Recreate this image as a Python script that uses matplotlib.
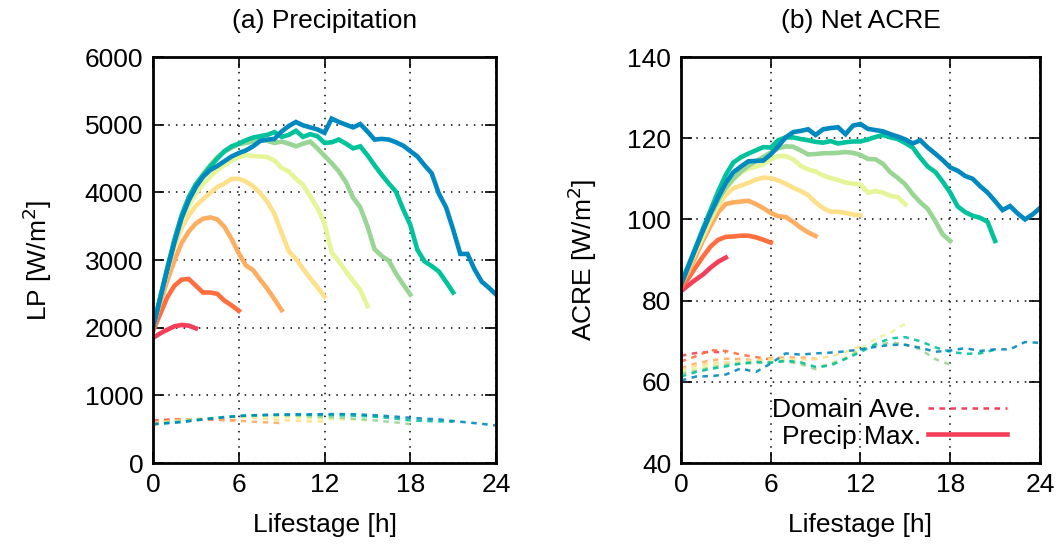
import numpy as np
import matplotlib
matplotlib.use("Agg")
import matplotlib.pyplot as plt

plt.rcParams['font.family'] = ['Liberation Sans', 'DejaVu Sans']

# colours, shortest lifetime first
colors = ['#f43f5a', '#ff6e3e', '#fdae61', '#fee08b', '#e6f598', '#99d594', '#00c29b', '#0088c0']
lifetimes = [3, 6, 9, 12, 15, 18, 21, 24]

# ---- (a) precipitation, precip-max (every 0.5 h)
lp_max = [
  [1850, 1915, 1970, 2020, 2040, 2030, 1990],
  [1950, 2200, 2450, 2620, 2710, 2720, 2620, 2520, 2520, 2500, 2400, 2330, 2250],
  [2000, 2370, 2690, 2990, 3250, 3420, 3540, 3610, 3630, 3600, 3490, 3310, 3100,
   2920, 2850, 2710, 2575, 2420, 2260],
  [2000, 2420, 2830, 3200, 3470, 3660, 3800, 3900, 3990, 4080, 4130, 4200, 4200,
   4160, 4090, 3990, 3860, 3680, 3400, 3130, 3020, 2870, 2730, 2600, 2460],
  [2000, 2430, 2850, 3250, 3560, 3800, 3980, 4120, 4230, 4330, 4400, 4470, 4520,
   4550, 4540, 4530, 4520, 4470, 4360, 4310, 4200, 4110, 3940, 3770, 3540,
   3110, 2980, 2830, 2690, 2560, 2320],
  [2000, 2440, 2880, 3290, 3640, 3910, 4110, 4270, 4400, 4520, 4600, 4660, 4710,
   4730, 4750, 4780, 4760, 4730, 4750, 4720, 4680, 4720, 4750, 4650, 4540,
   4430, 4310, 4150, 3920, 3780, 3500, 3160, 3060, 2990, 2800, 2640, 2490],
  [2000, 2440, 2880, 3300, 3660, 3930, 4120, 4250, 4380, 4500, 4610, 4680, 4720,
   4770, 4810, 4830, 4850, 4890, 4820, 4850, 4910, 4820, 4860, 4830, 4730,
   4740, 4780, 4720, 4650, 4680, 4550, 4400, 4260, 4130, 4010, 3750, 3520,
   3150, 2980, 2910, 2830, 2680, 2520],
  [2000, 2430, 2860, 3260, 3620, 3880, 4080, 4230, 4330, 4390, 4460, 4530, 4580,
   4620, 4680, 4760, 4780, 4790, 4900, 4980, 5040, 4990, 4960, 4930, 4880,
   5090, 5040, 5000, 4960, 5010, 4900, 4780, 4790, 4780, 4740, 4690, 4610,
   4530, 4400, 4280, 3980, 3780, 3450, 3090, 3090, 2860, 2680, 2590, 2490],
]

# ---- (a) precipitation, domain average (every 1 h)
lp_ave = [
  [630, 640, 645, 640],
  [620, 635, 645, 645, 640, 635, 630],
  [600, 620, 640, 650, 650, 640, 625, 610, 600, 590],
  [590, 610, 630, 650, 665, 675, 680, 670, 650, 635, 625, 615, 610],
  [580, 600, 620, 640, 660, 675, 685, 690, 690, 680, 670, 660, 650, 645, 640, 630],
  [575, 595, 615, 640, 660, 680, 695, 700, 705, 705, 700, 690, 680, 670, 655,
   640, 620, 600, 575],
  [570, 590, 610, 635, 660, 680, 695, 705, 710, 715, 715, 712, 710, 705, 700,
   690, 675, 655, 630, 620, 615, 610],
  [575, 590, 605, 630, 655, 675, 695, 705, 712, 716, 718, 720, 722, 724, 722,
   712, 700, 685, 668, 655, 645, 620, 600, 580, 555],
]

# ---- (b) net ACRE, precip-max (every 0.5 h)
acre_max = [
  [82.3, 83.8, 85.2, 86.5, 88.2, 89.6, 90.6],
  [83.0, 85.5, 88.3, 91.0, 93.4, 95.0, 95.7, 95.8, 96.0, 96.0, 95.6, 95.0, 94.3],
  [84.0, 87.0, 91.0, 95.0, 98.5, 101.8, 103.8, 104.2, 104.4, 104.6, 103.8, 102.8,
   101.6, 100.8, 100.6, 99.4, 98.0, 96.8, 95.9],
  [84.5, 88.0, 92.0, 96.0, 100.0, 103.5, 106.0, 107.7, 108.3, 109.0, 109.8, 110.3,
   110.2, 109.6, 108.8, 107.8, 107.0, 106.0, 104.2, 102.8, 101.9, 101.9, 101.6,
   101.2, 101.0],
  [84.5, 88.5, 92.5, 96.5, 100.5, 104.0, 107.5, 109.8, 111.5, 112.5, 113.0, 113.6,
   114.8, 115.6, 115.6, 114.8, 113.2, 112.3, 111.8, 110.8, 110.2, 109.7, 109.1,
   108.8, 108.6, 106.6, 107.0, 106.6, 105.8, 105.5, 103.7],
  [84.5, 88.8, 93.0, 97.3, 101.3, 104.8, 107.8, 110.0, 111.8, 113.2, 114.3, 115.4,
   116.5, 117.5, 118.0, 117.9, 117.0, 116.0, 116.1, 116.3, 116.3, 116.4, 116.6,
   116.4, 115.9, 114.9, 114.8, 113.7, 111.6, 110.2, 108.6, 106.2, 104.2, 102.6,
   99.6, 96.3, 94.7],
  [84.0, 88.5, 93.3, 98.0, 102.5, 107.0, 111.0, 114.0, 115.3, 116.2, 117.0, 117.8,
   117.7, 119.5, 120.2, 120.2, 119.8, 119.5, 119.1, 118.9, 119.3, 118.7, 119.0,
   119.2, 119.2, 119.7, 120.3, 120.8, 120.2, 119.8, 118.8, 117.7, 115.2, 113.0,
   111.7, 109.3, 106.6, 103.2, 101.8, 100.9, 100.4, 99.4, 94.7],
  [84.0, 88.5, 93.0, 97.5, 101.7, 105.5, 109.0, 111.6, 113.0, 114.3, 114.4, 114.5,
   116.0, 118.0, 120.2, 121.5, 121.8, 122.2, 120.8, 122.2, 122.5, 122.7, 121.0,
   123.1, 123.5, 122.3, 122.0, 121.7, 121.0, 120.4, 119.7, 118.7, 119.5, 117.7,
   116.2, 114.6, 112.8, 112.0, 110.7, 110.0, 108.2, 106.6, 104.5, 102.3, 103.3,
   101.5, 100.0, 101.2, 102.8],
]

# ---- (b) net ACRE, domain average (every 1 h)
acre_ave = [
  [66.4, 67.1, 67.4, 67.2],
  [65.0, 66.3, 67.8, 67.6, 66.7, 66.1, 65.5],
  [63.4, 64.5, 65.3, 65.7, 65.6, 65.3, 65.9, 66.0, 66.0, 65.7],
  [63.0, 64.0, 64.6, 64.8, 65.0, 65.3, 65.6, 65.5, 65.5, 65.6, 66.3, 67.3, 68.8],
  [62.5, 63.3, 64.0, 64.5, 64.7, 64.9, 65.0, 65.4, 64.4, 63.4, 64.6, 66.0, 68.2,
   70.6, 72.1, 74.3],
  [62.0, 62.7, 63.5, 64.2, 64.5, 64.6, 64.8, 65.0, 64.4, 63.1, 64.4, 65.6, 67.9,
   68.9, 69.7, 69.2, 68.0, 65.6, 64.2],
  [61.3, 62.4, 63.2, 63.8, 64.5, 64.9, 64.7, 65.2, 64.8, 63.7, 64.0, 65.7, 67.3,
   69.3, 70.7, 71.0, 70.0, 68.5, 67.4, 66.9, 67.0, 67.9],
  [60.3, 61.3, 61.4, 61.8, 63.3, 62.4, 64.5, 67.0, 66.7, 67.0, 67.2, 67.5, 68.0,
   68.6, 69.1, 69.1, 68.4, 67.4, 67.7, 68.3, 67.6, 68.0, 68.0, 69.8, 69.6],
]

fig = plt.figure(figsize=(10.64, 5.52), dpi=100)
ax1 = fig.add_axes([0.1438, 0.1612, 0.3224, 0.7355])
ax2 = fig.add_axes([0.6400, 0.1612, 0.3374, 0.7355])

fs = 19

def style(ax, ylim, yticks):
  ax.set_xlim(0, 24)
  ax.set_ylim(*ylim)
  ax.set_xticks([0, 6, 12, 18, 24])
  ax.set_yticks(yticks)
  ax.tick_params(direction='in', length=8, width=1.2, top=True, right=True,
                 labelsize=fs, pad=7)
  for s in ax.spines.values():
    s.set_linewidth(2)
  ax.grid(True, color='black', linestyle=(0, (1, 4)), linewidth=1.1)
  ax.set_axisbelow(True)
  ax.set_xlabel('Lifestage [h]', fontsize=fs, labelpad=12)

for i in range(len(lifetimes)):
  c = colors[i]
  t_max = np.arange(len(lp_max[i])) * 0.5
  t_ave = np.arange(len(lp_ave[i])) * 1.0
  ax1.plot(t_ave, lp_ave[i], color=c, lw=1.8, dashes=(2.2, 2.2), alpha=0.9)
  ax1.plot(t_max, lp_max[i], color=c, lw=3.3, solid_joinstyle='miter')
  t_max = np.arange(len(acre_max[i])) * 0.5
  t_ave = np.arange(len(acre_ave[i])) * 1.0
  ax2.plot(t_ave, acre_ave[i], color=c, lw=1.8, dashes=(2.2, 2.2), alpha=0.9)
  ax2.plot(t_max, acre_max[i], color=c, lw=3.3, solid_joinstyle='miter')

style(ax1, (0, 6000), range(0, 6001, 1000))
style(ax2, (40, 140), range(40, 141, 20))
ax1.set_ylabel('LP [W/m$^2$]', fontsize=fs, labelpad=22)
ax2.set_ylabel('ACRE [W/m$^2$]', fontsize=fs, labelpad=20)
ax1.set_title('(a) Precipitation', fontsize=fs, pad=21)
ax2.set_title('(b) Net ACRE', fontsize=fs, pad=21)

# legend in gnuplot style: text first, right aligned
h1, = ax2.plot([], [], color=colors[0], lw=1.8, dashes=(2.2, 2.2))
h2, = ax2.plot([], [], color=colors[0], lw=3.3)
ax2.legend([h1, h2], ['Domain Ave.', 'Precip Max.'], loc='lower right',
           bbox_to_anchor=(0.96, -0.01), frameon=False, markerfirst=False,
           fontsize=fs, handlelength=3.0, handletextpad=0.25, labelspacing=0.1,
           borderpad=0.2)

plt.savefig('out.png', dpi=100)
